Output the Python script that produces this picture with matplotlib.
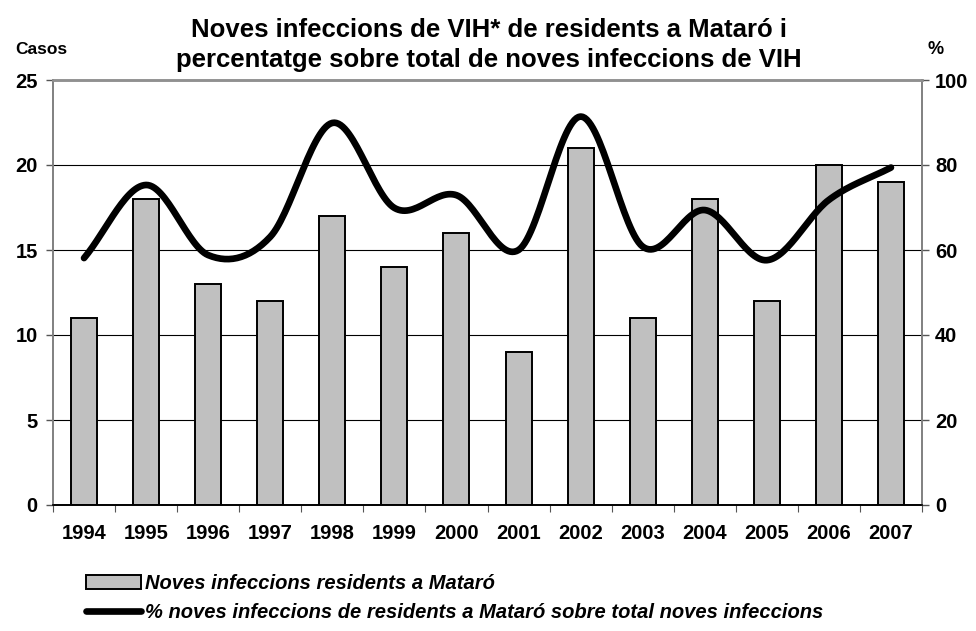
import numpy as np
import matplotlib
matplotlib.use("Agg")
import matplotlib.pyplot as plt
from matplotlib.patches import Patch
from matplotlib.lines import Line2D

plt.rcParams['font.family'] = ['Liberation Sans', 'DejaVu Sans']

# dades
anys = ['1994', '1995', '1996', '1997', '1998', '1999', '2000',
        '2001', '2002', '2003', '2004', '2005', '2006', '2007']
casos = [11, 18, 13, 12, 17, 14, 16, 9, 21, 11, 18, 12, 20, 19]
percentatge = [58.1, 75.3, 58.8, 63.1, 89.9, 69.9, 72.9,
               60.0, 91.4, 60.8, 69.4, 57.6, 71.8, 79.4]

titol_1 = "Noves infeccions de VIH* de residents a Mataró i"
titol_2 = "percentatge sobre total de noves infeccions de VIH"
lab_barres = "Noves infeccions residents a Mataró"
lab_linia = "% noves infeccions de residents a Mataró sobre total noves infeccions"

W, H = 976, 631


def catmull_rom(x, y, n=30):
    # corba suavitzada tipus Excel (Catmull-Rom uniforme)
    x = np.asarray(x, float); y = np.asarray(y, float)
    px = np.concatenate([[2 * x[0] - x[1]], x, [2 * x[-1] - x[-2]]])
    py = np.concatenate([[2 * y[0] - y[1]], y, [2 * y[-1] - y[-2]]])
    xs, ys = [], []
    t = np.linspace(0, 1, n, endpoint=False)
    for i in range(1, len(px) - 2):
        for p, out in ((px, xs), (py, ys)):
            p0, p1, p2, p3 = p[i - 1], p[i], p[i + 1], p[i + 2]
            out.extend(0.5 * (2 * p1 + (-p0 + p2) * t
                              + (2 * p0 - 5 * p1 + 4 * p2 - p3) * t ** 2
                              + (-p0 + 3 * p1 - 3 * p2 + p3) * t ** 3))
    xs.append(x[-1]); ys.append(y[-1])
    return np.array(xs), np.array(ys)


fig = plt.figure(figsize=(W / 100, H / 100), dpi=100)
ax = fig.add_axes([53 / W, 1 - 505 / H, (922 - 53) / W, (505 - 80) / H])
ax2 = ax.twinx()

x = np.arange(len(anys))
ax.bar(x, casos, width=0.42, color='#C0C0C0', edgecolor='black', linewidth=1.4, zorder=3)
ax.set_xlim(-0.5, len(anys) - 0.5)
ax.set_ylim(0, 25)
ax.set_yticks([0, 5, 10, 15, 20, 25])
ax.yaxis.grid(True, color='black', linewidth=0.8, zorder=0)
ax.set_axisbelow(True)

xs, ys = catmull_rom(x, percentatge)
ax2.plot(xs, ys, color='black', linewidth=4.8, solid_capstyle='round', zorder=4)
ax2.set_ylim(0, 100)
ax2.set_yticks([0, 20, 40, 60, 80, 100])

# eix x: marques entre categories, etiquetes al centre
ax.set_xticks(np.arange(-0.5, len(anys), 1.0))
ax.set_xticklabels([])
ax.set_xticks(x, minor=True)
ax.set_xticklabels(anys, minor=True)
ax.tick_params(axis='x', which='major', direction='out', length=5, color='#555555')
ax.tick_params(axis='x', which='minor', length=0, pad=14)

ax.tick_params(axis='y', direction='out', length=5, width=1, color='#555555', pad=6)
ax2.tick_params(axis='y', direction='out', length=5, width=1, color='#555555', pad=4.5)
for a in (ax, ax2):
    for lab in a.get_yticklabels() + a.get_xticklabels(minor=True):
        lab.set_fontweight('bold'); lab.set_fontsize(14.5)
    for s in a.spines.values():
        s.set_color('#808080'); s.set_linewidth(1.2)
    a.spines['bottom'].set_color('black')
    a.spines['top'].set_color('#909090'); a.spines['top'].set_linewidth(1.8)

fig.text(489 / W, 1 - 37 / H, titol_1, ha='center', va='baseline', fontsize=18.5, fontweight='bold')
fig.text(489 / W, 1 - 67 / H, titol_2, ha='center', va='baseline', fontsize=18.5, fontweight='bold')
fig.text(15 / W, 1 - 50 / H, 'Casos', ha='left', va='center', fontsize=12.5, fontweight='bold')
fig.text(927 / W, 1 - 50 / H, '%', ha='left', va='center', fontsize=13, fontweight='bold')

handles = [Patch(facecolor='#C0C0C0', edgecolor='black', linewidth=1.4),
           Line2D([0], [0], color='black', linewidth=4.8, solid_capstyle='round')]
fig.legend(handles, [lab_barres, lab_linia], loc='upper left',
           bbox_to_anchor=(86 / W, 1 - 574 / H), frameon=False,
           prop=dict(weight='bold', style='italic', size=14.5),
           handlelength=2.75, handleheight=0.7, handletextpad=0.2, labelspacing=0.5,
           borderaxespad=0, borderpad=0)

fig.savefig('out.png', dpi=100)
